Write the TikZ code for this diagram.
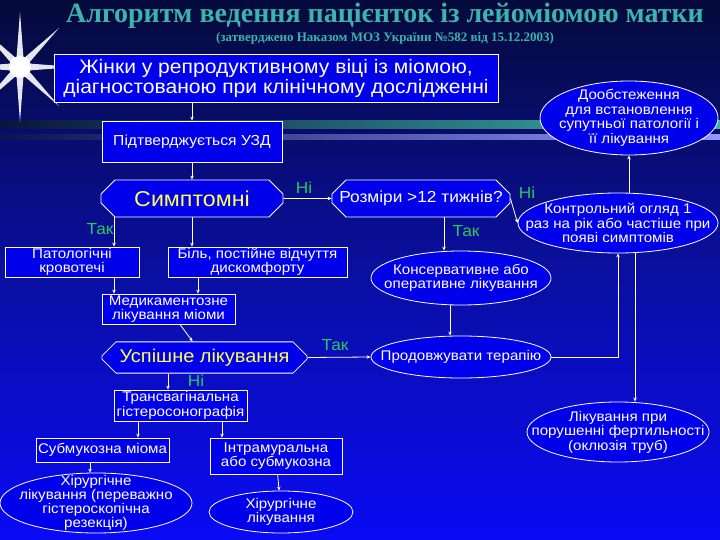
\documentclass[tikz,border=0pt]{standalone}
\usepackage{fontspec}
\setmainfont{Liberation Sans}
\newfontfamily\nar[FakeStretch=1.08]{Liberation Sans}
\newfontfamily\tser{Liberation Serif}
\usetikzlibrary{shapes.geometric,shapes.misc,arrows.meta}
\definecolor{bx}{RGB}{0,0,235}
\definecolor{tealt}{RGB}{60,180,170}
\definecolor{grn}{RGB}{40,200,90}
\definecolor{ylw}{RGB}{255,255,80}
\tikzset{
 box/.style={draw=white,fill=bx,text=white,inner sep=0pt,align=center,line width=0.8pt},
 oct/.style={chamfered rectangle,chamfered rectangle xsep=7pt,chamfered rectangle ysep=7pt,draw=white,fill=bx,inner sep=0pt,line width=0.8pt},
 ell/.style={ellipse,draw=white,fill=bx,text=white,inner xsep=-30pt,inner ysep=-12pt,align=center,line width=0.8pt},
 sm/.style={font=\nar\fontsize{14}{14.5}\selectfont},
 lab/.style={text=grn,font=\nar\fontsize{16}{16}\selectfont},
 con/.style={draw=white,line width=0.8pt,-{Stealth[length=4pt,width=3.5pt]}}
}
\begin{document}
\begin{tikzpicture}[x=1pt,y=-1pt]
\useasboundingbox (0,0) rectangle (720,540);
\shade[top color={rgb,255:red,5;green,10;blue,60},bottom color={rgb,255:red,10;green,10;blue,245},middle color={rgb,255:red,10;green,15;blue,160}] (0,0) rectangle (720,540);
% decorative bands
\shade[left color={rgb,255:red,10;green,20;blue,60},right color=tealt] (0,121) rectangle (720,129);
\shade[left color={rgb,255:red,10;green,20;blue,80},right color={rgb,255:red,150;green,150;blue,255}] (0,135) rectangle (720,140);
% star
\node[star,star points=8,star point ratio=6,fill=white,minimum size=110pt,inner sep=0pt,opacity=0.9] (star) at (20,67) {};
\node[circle,fill=white,minimum size=22pt,inner sep=0pt] (starc) at (20,67) {};
% title
\node[text=tealt,font=\tser\bfseries\fontsize{28}{28}\selectfont] (title) at (385,16) {Алгоритм ведення пацієнток із лейоміомою матки};
\node[text=tealt,font=\tser\bfseries\fontsize{13}{13}\selectfont] (sub) at (385,38) {(затверджено Наказом МОЗ України №582 від 15.12.2003)};
% nodes
\node[box,minimum width=444pt,minimum height=48pt,font=\nar\fontsize{19.5}{20}\selectfont] (b1) at (276,78) {Жінки у репродуктивному віці із міомою,\\діагностованою при клінічному дослідженні};
\node[box,minimum width=180pt,minimum height=41pt,font=\nar\fontsize{14.5}{15}\selectfont] (uzd) at (192,141.5) {Підтверджується УЗД};
\node[oct,minimum width=182pt,minimum height=37pt,text=ylw,font=\nar\fontsize{21.5}{22}\selectfont] (sym) at (192,198.5) {Симптомні};
\node[oct,minimum width=178pt,minimum height=37pt,text=white,font=\nar\fontsize{16}{16}\selectfont] (roz) at (421,198.5) {Розміри >12 тижнів?};
\node[ell,sm,minimum width=178pt,minimum height=74pt] (doo) at (629,118) {Дообстеження\\для встановлення\\супутньої патології і\\її лікування};
\node[ell,sm,minimum width=200pt,minimum height=60pt] (kon) at (618,223) {Контрольний огляд 1\\раз на рік або частіше при\\появі симптомів};
\node[box,sm,minimum width=134pt,minimum height=30pt] (pat) at (72,262) {Патологічні\\кровотечі};
\node[box,sm,minimum width=179pt,minimum height=30pt] (bil) at (257.5,262) {Біль, постійне відчуття\\дискомфорту};
\node[ell,sm,minimum width=180pt,minimum height=54pt] (kons) at (461,278) {Консервативне або\\оперативне лікування};
\node[box,sm,minimum width=133pt,minimum height=30pt] (med) at (168.5,309) {Медикаментозне\\лікування міоми};
\node[oct,minimum width=205pt,minimum height=31pt,text=ylw,font=\nar\fontsize{18.5}{20}\selectfont] (usp) at (204.5,357.5) {Успішне лікування};
\node[ell,sm,minimum width=180pt,minimum height=42pt] (prod) at (461,357) {Продовжувати терапію};
\node[box,sm,minimum width=133pt,minimum height=31pt] (tran) at (180.5,405.5) {Трансвагінальна\\гістеросонографія};
\node[ell,sm,minimum width=182pt,minimum height=60pt] (lik) at (618,432) {Лікування при\\порушенні фертильності\\(оклюзія труб)};
\node[box,sm,minimum width=133pt,minimum height=24pt] (sub2) at (102.5,450) {Субмукозна міома};
\node[box,sm,minimum width=132pt,minimum height=36pt] (intr) at (276,456) {Інтрамуральна\\або субмукозна};
\node[ell,minimum width=192pt,minimum height=60pt,font=\nar\fontsize{14}{12.5}\selectfont] (hir1) at (96,503) {Хірургічне\\лікування (переважно\\гістероскопічна\\резекція)};
\node[ell,sm,minimum width=144pt,minimum height=42pt] (hir2) at (281,512) {Хірургічне\\лікування};
% labels
\node[lab] (l1) at (304,188) {Ні};
\node[lab] (l2) at (527,193) {Ні};
\node[lab] (l3) at (100,229) {Так};
\node[lab] (l4) at (466,231) {Так};
\node[lab] (l5) at (335,345) {Так};
\node[lab] (l6) at (196,381) {Ні};
% connectors
\draw[con] (b1.south -| uzd) -- (uzd);
\draw[con] (uzd) -- (sym);
\draw[con] (sym) -- (roz);
\draw[con] (roz.east) -- (kon.west);
\draw[con] (kon.north -| doo.south) -- (doo.south);
\draw[con] (sym.south -| 114,0) -- (pat.north -| 114,0);
\draw[con] (sym.south) -- (bil.north -| sym.south);
\draw[con] (roz.south -| 444,0) -- (kons.north -| 444,0);
\draw[con] (pat.south -| 114,0) -- (med.north -| 114,0);
\draw[con] (bil.south -| 198,0) -- (med.north -| 198,0);
\draw[con] (med) -- (usp);
\draw[con] (kons.south -| 450,0) -- (prod.north -| 450,0);
\draw[con] (usp.east) -- (prod.west);
\draw[con] (prod.east) -| (kon.south -| 618,0);
\draw[con] (kon.south -| 635,0) -- (lik.north -| 635,0);
\draw[con] (usp.south -| 168,0) -- (tran.north -| 168,0);
\draw[con] (tran.south -| 138,0) -- (sub2.north -| 138,0);
\draw[con] (tran.south -| 222,0) -- (intr.north -| 222,0);
\draw[con] (sub2.south -| 90,0) -- (hir1.north -| 90,0);
\draw[con] (intr) -- (hir2);
\end{tikzpicture}
\end{document}
